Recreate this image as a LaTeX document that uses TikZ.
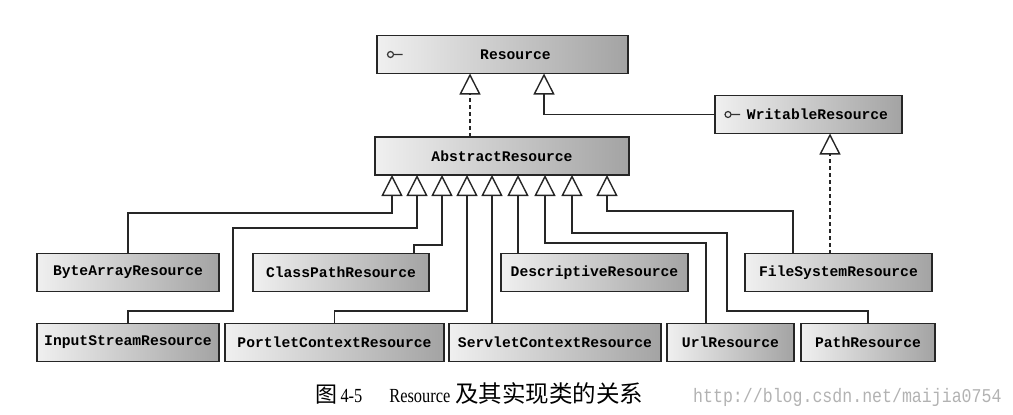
\documentclass[tikz,border=0pt]{standalone}
\usepackage{fontspec}
\setmainfont{Liberation Serif}
\setmonofont{Liberation Mono}
\newfontfamily\cjk{Noto Sans CJK SC}
\newfontfamily\capfont[FakeStretch=0.82]{Liberation Serif}
\newfontfamily\markfont[FakeStretch=0.85]{Liberation Mono}
\usetikzlibrary{arrows.meta}

\begin{document}
\begin{tikzpicture}[
  x=1pt, y=-1pt,
  cls/.style={draw=black!85, line width=1.8pt, left color=black!6, right color=black!36, minimum height=38pt, inner sep=0pt, outer sep=0pt, font=\ttfamily\bfseries\fontsize{14.7}{16}\selectfont},
  gen/.style={-{Triangle[open, length=21pt, width=21pt]}, line width=1.4pt, draw=black!85},
  real/.style={gen, dash pattern=on 4pt off 3pt}
]
\useasboundingbox (0,0) rectangle (1013,415);

\node[cls, minimum width=251] (res) at (502.5,54.5) {\hspace*{26pt}Resource};
\node[cls, minimum width=254] (abs) at (502,156) {AbstractResource};
\node[cls, minimum width=187] (wr) at (808.5,114.5) {\hspace*{18pt}WritableResource};

\node[cls, minimum width=182] (byte) at (128,272.5) {ByteArrayResource};
\node[cls, minimum width=176] (class) at (341,272.5) {ClassPathResource};
\node[cls, minimum width=187] (desc) at (594.5,272.5) {DescriptiveResource};
\node[cls, minimum width=187] (fs) at (838.5,272.5) {FileSystemResource};

\node[cls, minimum width=182] (input) at (128,342.5) {InputStreamResource};
\node[cls, minimum width=219] (portlet) at (334.5,342.5) {PortletContextResource};
\node[cls, minimum width=212] (servlet) at (555,342.5) {ServletContextResource};
\node[cls, minimum width=127] (url) at (730.5,342.5) {UrlResource};
\node[cls, minimum width=134] (path) at (868,342.5) {PathResource};

\draw[line width=1.2pt, draw=black!80] ([xshift=13.5]res.west) circle[radius=3] ++(3,0) -- ++(9,0);
\draw[line width=1.2pt, draw=black!80] ([xshift=13]wr.west) circle[radius=3] ++(3,0) -- ++(9,0);

\draw[real] ([xshift=-32]abs.north) -- ([xshift=-32.5]res.south);
\draw[gen] (wr.west) -| ([xshift=41.5]res.south);
\draw[real] ([xshift=-8.5]fs.north) -- ([xshift=21.5]wr.south);

\foreach \i/\x in {1/392,2/417,3/442,4/467,5/492,6/518,7/545,8/572,9/607}
  \coordinate (p\i) at (\x,175);

\draw[gen] (byte.north) |- (392,213) -- (p1);
\draw[gen] (input.north) |- (233,311) |- (417,228) -- (p2);
\draw[gen] ([xshift=73]class.north) |- (442,245) -- (p3);
\draw[gen] (portlet.north) |- (467,311) -- (p4);
\draw[gen] ([xshift=-63]servlet.north) -- (p5);
\draw[gen] ([xshift=-76.5]desc.north) -- (p6);
\draw[gen] ([xshift=-24.5]url.north) |- (545,243) -- (p7);
\draw[gen] (path.north) |- (727,311) |- (572,233) -- (p8);
\draw[gen] ([xshift=-45.5]fs.north) |- (607,211) -- (p9);

\node[anchor=base west, inner sep=0pt, font=\capfont\fontsize{20}{22}\selectfont] (cap) at (315,402)
  {{\cjk\fontsize{22}{24}\selectfont 图}\,4-5\hspace{27pt}Resource\hspace{5pt}{\cjk\fontsize{23.5}{24}\selectfont 及其实现类的关系}};
\node[anchor=base west, inner sep=0pt, text=black!30, font=\markfont\fontsize{19.5}{21}\selectfont] (mark) at (693,402)
  {http://blog.csdn.net/maijia0754};
\end{tikzpicture}
\end{document}
